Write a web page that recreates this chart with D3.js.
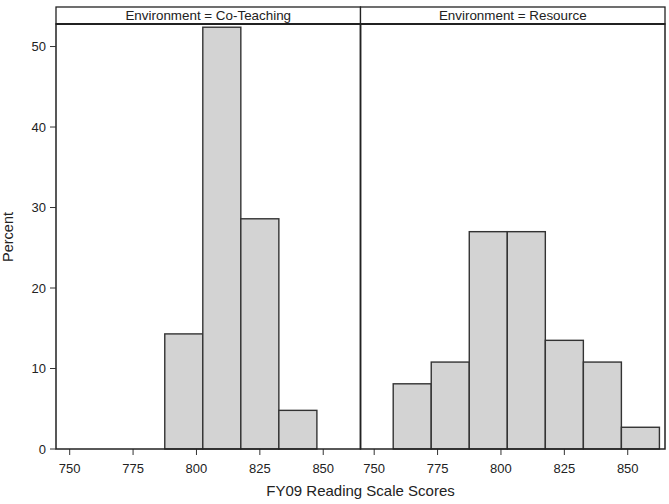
<!DOCTYPE html>
<html>
<head>
<meta charset="utf-8">
<script src="https://cdn.jsdelivr.net/npm/d3@7"></script>
<style>
	body { margin: 0; background: #fff; }
	svg { display: block; font-family: 'Liberation Sans', Arial, sans-serif; }
</style>
</head>
<body>
<svg id="chart" width="669" height="504"></svg>
<script>
const PANELS = ['Co-Teaching', 'Resource'];
const MIDPOINTS = [765, 780, 795, 810, 825, 840, 855];
const BIN_WIDTH = 15;
const CO_TEACHING = [0, 0, 14.3, 52.4, 28.6, 4.8, 0];
const RESOURCE = [8.1, 10.8, 27.0, 27.0, 13.5, 10.8, 2.7];
const X_TICKS = [750, 775, 800, 825, 850];
const Y_TICKS = [0, 10, 20, 30, 40, 50];

const values = [CO_TEACHING, RESOURCE];

const $svg = d3.select('#chart');
const headTop = 7;
const headH = 17;
const plotBottom = 449;
const plotLeft = 56;
const panelW = 304.5;

const y = d3.scaleLinear().domain([0, 52.8]).range([plotBottom, headTop + headH]);

PANELS.forEach((name, i) => {
	const x0 = plotLeft + i * panelW;
	const x = d3.scaleLinear().domain([744.6, 864.7]).range([x0, x0 + panelW]);
	const $g = $svg.append('g');

	const bins = MIDPOINTS.map((m, j) => ({ lo: m - BIN_WIDTH / 2, hi: m + BIN_WIDTH / 2, v: values[i][j] }));

	$g.selectAll('rect.bar')
		.data(bins)
		.enter()
		.append('rect')
		.attr('x', d => x(d.lo))
		.attr('width', d => x(d.hi) - x(d.lo))
		.attr('y', d => y(d.v))
		.attr('height', d => y(0) - y(d.v))
		.attr('fill', '#d3d3d3')
		.attr('stroke', '#333')
		.attr('stroke-width', 1.4);

	// x axis
	const $ax = $g.append('g').attr('transform', `translate(0,${plotBottom})`);
	$ax.selectAll('line')
		.data(X_TICKS)
		.enter()
		.append('line')
		.attr('x1', d => x(d)).attr('x2', d => x(d))
		.attr('y1', 0).attr('y2', 6)
		.attr('stroke', '#333');
	$ax.selectAll('text')
		.data(X_TICKS)
		.enter()
		.append('text')
		.attr('x', d => x(d))
		.attr('y', 24)
		.attr('text-anchor', 'middle')
		.attr('font-size', 13)
		.attr('fill', '#222')
		.text(d => d);

	// header strip
	$g.append('rect')
		.attr('x', x0).attr('y', headTop)
		.attr('width', panelW).attr('height', headH)
		.attr('fill', '#fff').attr('stroke', '#222').attr('stroke-width', 1.3);
	$g.append('line')
		.attr('x1', x0).attr('x2', x0 + panelW)
		.attr('y1', headTop + headH).attr('y2', headTop + headH)
		.attr('stroke', '#222').attr('stroke-width', 2);
	$g.append('text')
		.attr('x', x0 + panelW / 2)
		.attr('y', headTop + 13)
		.attr('text-anchor', 'middle')
		.attr('font-size', 13.4)
		.attr('fill', '#222')
		.text(`Environment = ${name}`);

	// panel frame
	$g.append('rect')
		.attr('x', x0).attr('y', headTop + headH)
		.attr('width', panelW).attr('height', plotBottom - headTop - headH)
		.attr('fill', 'none').attr('stroke', '#222').attr('stroke-width', 1.5);
});

// y axis
const $ay = $svg.append('g');
$ay.selectAll('line')
	.data(Y_TICKS)
	.enter()
	.append('line')
	.attr('x1', plotLeft - 6).attr('x2', plotLeft)
	.attr('y1', d => y(d)).attr('y2', d => y(d))
	.attr('stroke', '#333');
$ay.selectAll('text')
	.data(Y_TICKS)
	.enter()
	.append('text')
	.attr('x', plotLeft - 10)
	.attr('y', d => y(d) + 4.5)
	.attr('text-anchor', 'end')
	.attr('font-size', 13)
	.attr('fill', '#222')
	.text(d => d);

$svg.append('text')
	.attr('transform', 'translate(13,237) rotate(-90)')
	.attr('text-anchor', 'middle')
	.attr('font-size', 14.5)
	.attr('fill', '#222')
	.text('Percent');

$svg.append('text')
	.attr('x', plotLeft + panelW)
	.attr('y', 496)
	.attr('text-anchor', 'middle')
	.attr('font-size', 15)
	.attr('fill', '#222')
	.text('FY09 Reading Scale Scores');
</script>
</body>
</html>
